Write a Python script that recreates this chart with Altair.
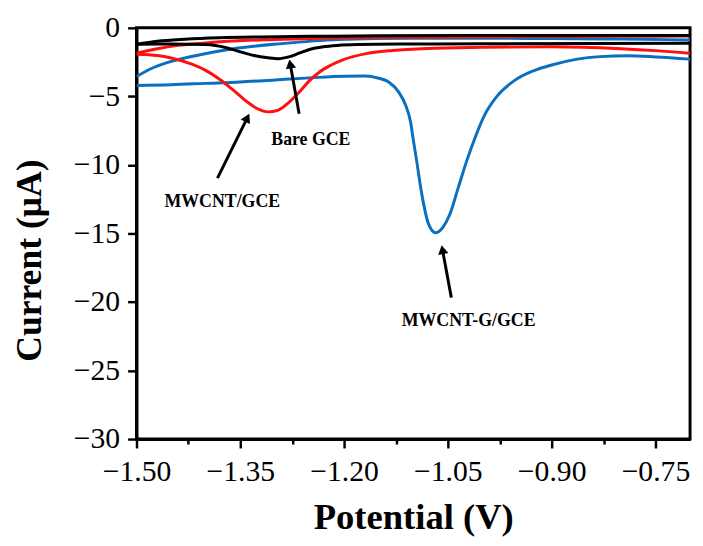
import altair as alt
import pandas as pd
import math

# ---------------- data ----------------
electrodes = ["MWCNT-G/GCE", "MWCNT/GCE", "Bare GCE"]
colors = ["#0a6fbe", "#ff1010", "#000000"]

# Bare GCE
bare_up_x = [-1.50, -1.47, -1.43, -1.38, -1.32, -1.25, -1.15, -1.00, -0.85, -0.70]
bare_up_y = [-1.20, -0.98, -0.83, -0.72, -0.66, -0.62, -0.58, -0.56, -0.55, -0.55]
bare_dn_x = [-1.50, -1.45, -1.40, -1.37, -1.35, -1.33, -1.31, -1.295, -1.28, -1.265,
             -1.25, -1.23, -1.21, -1.18, -1.10, -1.00, -0.85, -0.70]
bare_dn_y = [-1.20, -1.18, -1.22, -1.45, -1.75, -2.02, -2.18, -2.25, -2.12, -1.85,
             -1.58, -1.38, -1.28, -1.22, -1.18, -1.16, -1.14, -1.13]

# MWCNT/GCE
mw_up_x = [-1.50, -1.47, -1.44, -1.40, -1.36, -1.30, -1.22, -1.10, -0.95, -0.80, -0.70]
mw_up_y = [-1.85, -1.52, -1.28, -1.10, -0.96, -0.85, -0.74, -0.68, -0.64, -0.62, -0.60]
mw_dn_x = [-1.50, -1.47, -1.45, -1.42, -1.40, -1.38, -1.36, -1.34, -1.325, -1.31,
           -1.295, -1.28, -1.265, -1.25, -1.235, -1.22, -1.20, -1.17, -1.13, -1.08,
           -1.00, -0.90, -0.80, -0.75, -0.70]
mw_dn_y = [-1.92, -2.02, -2.20, -2.65, -3.10, -3.75, -4.55, -5.40, -5.90, -6.13,
           -6.00, -5.45, -4.70, -3.85, -3.20, -2.75, -2.30, -1.90, -1.65, -1.50,
           -1.42, -1.38, -1.52, -1.66, -1.85]

# MWCNT-G/GCE
mg_up_x = [-1.50, -1.48, -1.45, -1.41, -1.36, -1.29, -1.21, -1.10, -1.00, -0.90, -0.80, -0.70]
mg_up_y = [-3.55, -3.00, -2.45, -1.98, -1.53, -1.15, -0.86, -0.76, -0.76, -0.78, -0.82, -0.88]
mg_dn_x = [-1.50, -1.45, -1.40, -1.35, -1.30, -1.25, -1.20, -1.17, -1.155, -1.135,
           -1.121, -1.111, -1.104, -1.0996, -1.095, -1.09, -1.085, -1.078, -1.0676, -1.057,
           -1.047, -1.035, -1.023, -1.011, -0.997, -0.978, -0.954, -0.926, -0.90, -0.865,
           -0.83, -0.79, -0.75, -0.70]
mg_dn_y = [-4.20, -4.15, -4.05, -3.95, -3.80, -3.65, -3.53, -3.52, -3.61, -3.97,
           -4.69, -5.65, -6.85, -8.29, -9.74, -11.42, -12.86, -14.30, -14.95, -14.54,
           -13.58, -11.66, -9.74, -8.05, -6.37, -4.93, -3.85, -3.13, -2.71, -2.30,
           -2.10, -2.04, -2.12, -2.28]

# annotations: label text, label position, arrow tail and tip
ann_text = ["Bare GCE", "MWCNT/GCE", "MWCNT-G/GCE"]
ann_x = [-1.248, -1.376, -1.020]
ann_y = [-8.15, -12.69, -21.38]
tail_x = [-1.265, -1.383, -1.045]
tail_y = [-6.27, -10.96, -19.68]
tip_x = [-1.279, -1.337, -1.059]
tip_y = [-2.31, -6.27, -15.86]

x_ticks = [-1.50, -1.425, -1.35, -1.275, -1.20, -1.125, -1.05, -0.975, -0.90, -0.825, -0.75]
y_ticks = [-30, -27.5, -25, -22.5, -20, -17.5, -15, -12.5, -10, -7.5, -5, -2.5, 0]

# ---------------- build tables ----------------
rows = []
def add(name, branch, xs, ys):
    for i, (a, b) in enumerate(zip(xs, ys)):
        rows.append({"E": a, "I": b, "electrode": name, "branch": name + branch, "o": i})

add("MWCNT-G/GCE", "up", mg_up_x, mg_up_y)
add("MWCNT-G/GCE", "dn", mg_dn_x, mg_dn_y)
add("MWCNT/GCE", "up", mw_up_x, mw_up_y)
add("MWCNT/GCE", "dn", mw_dn_x, mw_dn_y)
add("Bare GCE", "up", bare_up_x, bare_up_y)
add("Bare GCE", "dn", bare_dn_x, bare_dn_y)
lines_df = pd.DataFrame(rows)

W, H = 560, 416
XMIN, XMAX, YMIN, YMAX = -1.50, -0.70, -30, 0
pxx = W / (XMAX - XMIN)
pxy = H / (YMAX - YMIN)

arr_rows = []
for t, lx, ly, ax, ay, bx, by in zip(ann_text, ann_x, ann_y, tail_x, tail_y, tip_x, tip_y):
    dx = (bx - ax) * pxx
    dy = -(by - ay) * pxy  # screen coords
    L = math.hypot(dx, dy)
    ux, uy = dx / L, dy / L
    back = 6.0
    hx = bx - ux * back / pxx
    hy = by + uy * back / pxy
    ang = math.degrees(math.atan2(ux, -uy)) % 360
    arr_rows.append({"t": t, "lx": lx, "ly": ly, "ax": ax, "ay": ay,
                     "hx": hx, "hy": hy, "ang": ang})
arr_df = pd.DataFrame(arr_rows)

FONT = "Liberation Serif"

xscale = alt.Scale(domain=[XMIN, XMAX], nice=False, zero=False)
yscale = alt.Scale(domain=[YMIN, YMAX], nice=False, zero=False)

x_axis = alt.Axis(
    values=x_ticks,
    labelExpr="abs(round(datum.value*1000)) % 150 === 0 ? format(datum.value, '.2f') : ''",
    tickSize={"condition": {"test": "abs(round(datum.value*1000)) % 150 === 0", "value": 9}, "value": 5},
    title="Potential (V)", titleX=280, titleY=90, titleBaseline="alphabetic",
    titleAlign="center",
    labelBaseline="alphabetic", labelPadding=33, labelFlush=False,
    grid=False,
)
y_axis = alt.Axis(
    values=y_ticks,
    labelExpr="datum.value % 5 === 0 ? format(datum.value, 'd') : ''",
    tickSize={"condition": {"test": "datum.value % 5 === 0", "value": 9}, "value": 5},
    title="Current (\u03bcA)", titleX=-97, titleY=235, titleAngle=270,
    titleBaseline="alphabetic", titleAlign="center", titleFontSize=36,
    labelBaseline="middle", labelPadding=8, labelFlush=False,
    grid=False,
)

lines = alt.Chart(lines_df).mark_line(strokeWidth=3, interpolate="monotone", clip=True).encode(
    x=alt.X("E:Q", scale=xscale, axis=x_axis),
    y=alt.Y("I:Q", scale=yscale, axis=y_axis),
    color=alt.Color("electrode:N", scale=alt.Scale(domain=electrodes, range=colors), legend=None),
    detail="branch:N",
    order="o:Q",
)

shafts = alt.Chart(arr_df).mark_rule(strokeWidth=3, color="black").encode(
    x=alt.X("ax:Q", scale=xscale), y=alt.Y("ay:Q", scale=yscale),
    x2="hx:Q", y2="hy:Q",
)
heads = alt.Chart(arr_df).mark_point(shape="triangle", filled=True, size=110,
                                     color="black", opacity=1).encode(
    x=alt.X("hx:Q", scale=xscale), y=alt.Y("hy:Q", scale=yscale),
    angle=alt.Angle("ang:Q", scale=None),
)
labels = alt.Chart(arr_df).mark_text(font=FONT, fontSize=18, fontWeight="bold",
                                     color="black", align="center", baseline="middle").encode(
    x=alt.X("lx:Q", scale=xscale), y=alt.Y("ly:Q", scale=yscale), text="t:N",
)

chart = alt.layer(lines, shafts, heads, labels).properties(
    width=W, height=H,
    autosize=alt.AutoSizeParams(type="none"),
    padding={"left": 130, "top": 17, "right": 5, "bottom": 97},
).configure_view(
    stroke="black", strokeWidth=3,
).configure_axis(
    domainColor="black", domainWidth=3, tickColor="black", tickWidth=2.5,
    labelFont=FONT, labelFontSize=30, labelColor="black",
    titleFont=FONT, titleFontSize=37, titleFontWeight="bold", titleColor="black",
)

chart.save("out.html", embed_options={"renderer": "svg", "actions": False})
